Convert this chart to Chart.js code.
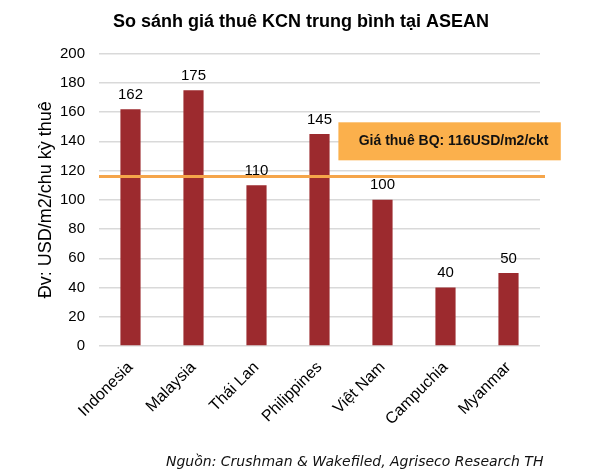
<!DOCTYPE html>
<html>
<head>
<meta charset="utf-8">
<script src="https://cdn.jsdelivr.net/npm/chart.js@4/dist/chart.umd.min.js"></script>
<style>
  html, body { margin: 0; padding: 0; background: #fff; }
  #wrap { width: 600px; height: 476px; }
</style>
</head>
<body>
<div id="wrap"><canvas id="myChart" width="600" height="476"></canvas></div>
<script>
// data
const countries = ['Indonesia', 'Malaysia', 'Thái Lan', 'Philippines', 'Việt Nam', 'Campuchia', 'Myanmar'];
const rents = [162, 175, 110, 145, 100, 40, 50];
const avgRent = 116;
const avgLabel = 'Giá thuê BQ: 116USD/m2/ckt';
const sourceText = 'Nguồn: Crushman & Wakefiled, Agriseco Research TH';

const FONT = 'Arial, "Liberation Sans"';

// nhãn giá trị trên cột + đường trung bình + hộp chú thích
const extras = {
  id: 'extras',
  afterDatasetsDraw(chart) {
    const {ctx, scales: {x, y}, chartArea} = chart;
    const meta = chart.getDatasetMeta(0);
    ctx.save();
    ctx.font = '15px ' + FONT;
    ctx.fillStyle = '#000';
    ctx.textAlign = 'center';
    ctx.textBaseline = 'bottom';
    meta.data.forEach((bar, i) => {
      ctx.fillText(rents[i], bar.x, bar.y - 7);
    });

    // duong trung binh
    const yAvg = y.getPixelForValue(avgRent);
    ctx.strokeStyle = '#f5a54a';
    ctx.lineWidth = 3;
    ctx.beginPath();
    ctx.moveTo(chartArea.left, yAvg);
    ctx.lineTo(chartArea.right + 5, yAvg);
    ctx.stroke();

    // hop chu thich
    const bx1 = x.getPixelForValue(3.3);
    const bx2 = x.getPixelForValue(6.83);
    const by1 = y.getPixelForValue(153);
    const by2 = y.getPixelForValue(127);
    ctx.fillStyle = '#fbb04c';
    ctx.fillRect(bx1, by1, bx2 - bx1, by2 - by1);
    ctx.fillStyle = '#111';
    ctx.font = 'bold 14px ' + FONT;
    ctx.textBaseline = 'middle';
    ctx.fillText(avgLabel, (bx1 + bx2) / 2 + 4, (by1 + by2) / 2);

    // nguon
    ctx.font = 'italic 14px "DejaVu Sans"';
    ctx.textAlign = 'left';
    ctx.fillStyle = '#111';
    ctx.fillText(sourceText, 166, 462);
    ctx.restore();
  }
};

const config = {
  type: 'bar',
  data: {
    labels: countries,
    datasets: [{
      data: rents,
      backgroundColor: '#9c2a2e',
      barPercentage: 0.64,
      categoryPercentage: 0.5
    }]
  },
  options: {
    responsive: false,
    animation: false,
    events: [],
    layout: {
      padding: {left: 31, right: 29, top: 0, bottom: 20}
    },
    plugins: {
      legend: false,
      tooltip: {enabled: false},
      title: {
        display: true,
        text: 'So sánh giá thuê KCN trung bình tại ASEAN',
        color: '#000',
        font: {family: FONT, size: 18, weight: 'bold'},
        padding: {top: 11, bottom: 21}
      }
    },
    scales: {
      x: {
        grid: {display: false},
        border: {display: false},
        ticks: {
          color: '#000',
          font: {family: FONT, size: 16},
          maxRotation: 45,
          minRotation: 45,
          padding: 4
        },
        afterFit(scale) {
          // lề phải của vùng vẽ ~540px
          scale.paddingLeft = 0;
          scale.paddingRight = 60;
          scale.height = 110;
        }
      },
      y: {
        min: 0,
        max: 200,
        ticks: {
          stepSize: 20,
          color: '#000',
          font: {family: FONT, size: 15},
          padding: 14
        },
        grid: {color: '#d9d9d9', lineWidth: 1.5, drawTicks: false},
        border: {display: false},
        title: {
          display: true,
          text: 'Đv: USD/m2/chu kỳ thuê',
          color: '#000',
          font: {family: FONT, size: 18},
          padding: 4
        },
        afterFit(scale) {
          scale.width = 68;
        }
      }
    }
  },
  plugins: [extras]
};

const myChart = new Chart(document.getElementById('myChart'), config);
</script>
</body>
</html>
